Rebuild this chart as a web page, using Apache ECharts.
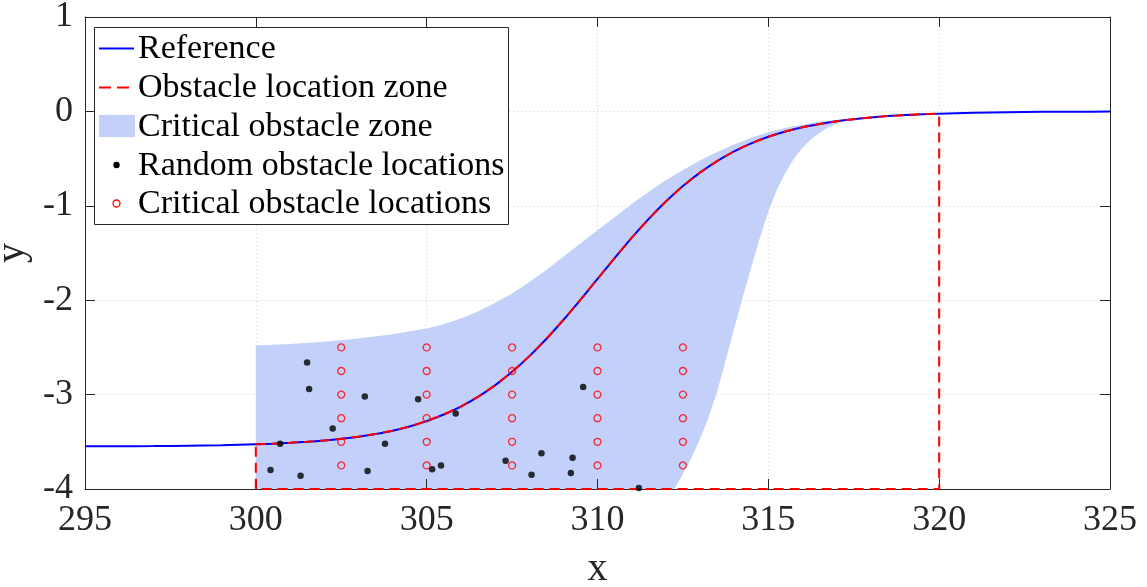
<!DOCTYPE html>
<html>
<head>
<meta charset="utf-8">
<script src="https://cdn.jsdelivr.net/npm/echarts@6/dist/echarts.min.js"></script>
<style>
  html, body { margin: 0; padding: 0; background: #ffffff; }
  #chart { width: 1147px; height: 587px; }
</style>
</head>
<body>
<div id="chart"></div>
<script>
// Reference path (sigmoid lane change)
const refX = [295, 296, 297, 298, 299,
  300, 300.5, 301, 301.5, 302, 302.5, 303, 303.5, 304, 304.5,
  305, 305.5, 306, 306.5, 307, 307.5, 308, 308.5, 309, 309.5,
  310, 310.5, 311, 311.5, 312, 312.5, 313, 313.5, 314, 314.5,
  315, 315.5, 316, 316.5, 317, 317.5, 318, 318.5, 319, 319.5, 320,
  321, 322, 323, 324, 325];
const refY = [-3.548, -3.547, -3.545, -3.541, -3.536,
  -3.526, -3.520, -3.511, -3.500, -3.486, -3.468, -3.446, -3.417, -3.382, -3.337,
  -3.281, -3.211, -3.127, -3.024, -2.902, -2.759, -2.595, -2.411, -2.210, -1.996,
  -1.775, -1.554, -1.340, -1.139, -0.955, -0.791, -0.648, -0.526, -0.423, -0.338,
  -0.269, -0.213, -0.168, -0.133, -0.104, -0.082, -0.064, -0.050, -0.039, -0.030, -0.024,
  -0.014, -0.009, -0.005, -0.003, -0.002];

// Obstacle location zone: the path between these x limits, closed down to the lower edge
const zoneStartX = 300;
const zoneEndX = 320;
const zoneCornerX = [320, 300, 300];
const zoneCornerY = [-4, -4, -3.526];

// Critical obstacle zone: upper and lower boundaries
const critUpperX = [300, 301, 302, 303, 304, 305, 305.5, 306, 306.5, 307, 307.5,
  308, 308.5, 309, 309.5, 310, 310.5, 311, 311.5, 312, 312.5, 313, 313.5,
  314, 314.5, 315, 315.5, 316, 316.5, 317, 317.3];
const critUpperY = [-2.48, -2.465, -2.44, -2.405, -2.36, -2.30, -2.255, -2.195, -2.12, -2.03, -1.93,
  -1.81, -1.68, -1.54, -1.40, -1.26, -1.12, -0.98, -0.85, -0.73, -0.62, -0.52, -0.43,
  -0.35, -0.28, -0.22, -0.175, -0.14, -0.11, -0.09, -0.085];
const critLowerX = [312.25, 312.5, 312.75, 313, 313.25, 313.5, 313.75, 314, 314.25, 314.5, 314.75,
  315, 315.25, 315.5, 315.75, 316, 316.25, 316.5, 316.75, 317, 317.3];
const critLowerY = [-4.0, -3.84, -3.67, -3.47, -3.24, -2.97, -2.64, -2.30, -1.97, -1.65, -1.34,
  -1.06, -0.83, -0.65, -0.50, -0.385, -0.295, -0.225, -0.17, -0.13, -0.088];
const critFloorY = -4;

// Random obstacle locations
const randX = [300.43, 300.71, 301.31, 301.50, 301.56, 302.25, 303.19, 303.27, 303.78, 304.75,
  305.16, 305.42, 305.85, 307.31, 308.07, 308.36, 309.22, 309.27, 309.58, 311.21];
const randY = [-3.80, -3.52, -3.86, -2.66, -2.94, -3.36, -3.02, -3.81, -3.52, -3.05,
  -3.79, -3.75, -3.20, -3.70, -3.85, -3.62, -3.83, -3.67, -2.92, -3.99];

// Critical obstacle locations (grid)
const critPosX = [302.5, 305, 307.5, 310, 312.5];
const critPosY = [-2.5, -2.75, -3, -3.25, -3.5, -3.75];

// Axis ticks
const xTicks = [295, 300, 305, 310, 315, 320, 325];
const yTicks = [-4, -3, -2, -1, 0, 1];

const legendLabels = ['Reference', 'Obstacle location zone', 'Critical obstacle zone',
  'Random obstacle locations', 'Critical obstacle locations'];

// ---- build series data ----
const refData = refX.map((x, i) => [x, refY[i]]);

const zoneData = refData.filter(p => p[0] >= zoneStartX && p[0] <= zoneEndX)
  .concat(zoneCornerX.map((x, i) => [x, zoneCornerY[i]]));

const bandPolygon = [[critUpperX[0], critFloorY]]
  .concat(critUpperX.map((x, i) => [x, critUpperY[i]]))
  .concat(critLowerX.map((x, i) => [x, critLowerY[i]]).reverse());

const randData = randX.map((x, i) => [x, randY[i]]);

const critData = [];
critPosX.forEach(x => critPosY.forEach(y => critData.push([x, y])));

const FONT = '"Liberation Serif", "Times New Roman", serif';
const AXIS_COLOR = '#262626';
const BLUE = '#0000ff';
const RED = '#ff0000';
const BAND_FILL = 'rgba(133,161,245,0.5)';

const chart = echarts.init(document.getElementById('chart'), null, { renderer: 'canvas' });

function xAxisCfg(pos, main) {
  return {
    type: 'value', position: pos, min: xTicks[0], max: xTicks[xTicks.length - 1], interval: 5,
    z: 3,
    axisLine: { show: true, onZero: false, lineStyle: { color: AXIS_COLOR, width: 1 } },
    axisTick: { show: true, inside: true, length: 10, lineStyle: { color: AXIS_COLOR, width: 1 } },
    axisLabel: {
      show: main, margin: 14, fontSize: 36, fontFamily: FONT, color: AXIS_COLOR,
      formatter: v => String(v)
    },
    splitLine: { show: main, lineStyle: { color: '#cfcfcf', width: 1, type: [1, 3] } },
    name: main ? 'x' : '', nameLocation: 'middle', nameGap: 60,
    nameTextStyle: { fontSize: 40, fontFamily: FONT, color: AXIS_COLOR }
  };
}
function yAxisCfg(pos, main) {
  return {
    type: 'value', position: pos, min: yTicks[0], max: yTicks[yTicks.length - 1], interval: 1,
    z: 3,
    axisLine: { show: true, onZero: false, lineStyle: { color: AXIS_COLOR, width: 1 } },
    axisTick: { show: true, inside: true, length: 10, lineStyle: { color: AXIS_COLOR, width: 1 } },
    axisLabel: {
      show: main, margin: 12, fontSize: 36, fontFamily: FONT, color: AXIS_COLOR,
      formatter: v => String(v)
    },
    splitLine: { show: main, lineStyle: { color: '#cfcfcf', width: 1, type: [1, 3] } },
    name: main ? 'y' : '', nameLocation: 'middle', nameGap: 38, nameRotate: 90,
    nameTextStyle: { fontSize: 40, fontFamily: FONT, color: AXIS_COLOR }
  };
}

// legend box rows
const rowY = [48.5, 87.5, 126, 165, 203.5];
const textX = 138;
const legendGraphic = [
  { type: 'rect', z: 100, shape: { x: 94.5, y: 27.5, width: 414, height: 197 },
    style: { fill: '#ffffff', stroke: AXIS_COLOR, lineWidth: 1 } },
  { type: 'line', z: 101, shape: { x1: 99, y1: rowY[0], x2: 134, y2: rowY[0] },
    style: { stroke: BLUE, lineWidth: 2 } },
  { type: 'line', z: 101, shape: { x1: 99, y1: rowY[1], x2: 130, y2: rowY[1] },
    style: { stroke: RED, lineWidth: 2, lineDash: [12, 6] } },
  { type: 'rect', z: 101, shape: { x: 99, y: rowY[2] - 11, width: 36, height: 22 },
    style: { fill: BAND_FILL } },
  { type: 'circle', z: 101, shape: { cx: 116.5, cy: rowY[3], r: 3.2 },
    style: { fill: '#000000' } },
  { type: 'circle', z: 101, shape: { cx: 116.5, cy: rowY[4], r: 3.5 },
    style: { fill: 'none', stroke: RED, lineWidth: 1.3 } }
].concat(legendLabels.map((t, i) => ({
  type: 'text', z: 101, x: textX, y: rowY[i] + 1,
  style: { text: t, fontSize: 34, fontFamily: FONT, fill: '#000000', verticalAlign: 'middle', align: 'left' }
})));

chart.setOption({
  animation: false,
  backgroundColor: '#ffffff',
  grid: { left: 85, right: 37, top: 17, bottom: 98, containLabel: false, outerBoundsMode: 'none' },
  xAxis: [xAxisCfg('bottom', true), xAxisCfg('top', false)],
  yAxis: [yAxisCfg('left', true), yAxisCfg('right', false)],
  graphic: legendGraphic,
  series: [
    {
      name: legendLabels[2], type: 'custom', z: 2, xAxisIndex: 0, yAxisIndex: 0,
      data: bandPolygon, encode: { x: 0, y: 1 }, silent: true,
      renderItem: function (params, api) {
        if (params.dataIndex !== 0) return null;
        return {
          type: 'polygon',
          shape: { points: bandPolygon.map(p => api.coord(p)) },
          style: { fill: BAND_FILL }
        };
      }
    },
    {
      name: legendLabels[0], type: 'line', z: 4, data: refData, smooth: 0.3,
      showSymbol: false, lineStyle: { color: BLUE, width: 2 }
    },
    {
      name: legendLabels[1], type: 'line', z: 5, data: zoneData, smooth: false,
      showSymbol: false, lineStyle: { color: RED, width: 2, type: [10, 6] }
    },
    {
      name: legendLabels[3], type: 'scatter', z: 6, data: randData, symbol: 'circle', symbolSize: 6.5,
      itemStyle: { color: '#000000' }
    },
    {
      name: legendLabels[4], type: 'scatter', z: 6, data: critData, symbol: 'circle', symbolSize: 7,
      itemStyle: { color: 'rgba(0,0,0,0)', borderColor: RED, borderWidth: 1.3 }
    }
  ]
});
</script>
</body>
</html>
